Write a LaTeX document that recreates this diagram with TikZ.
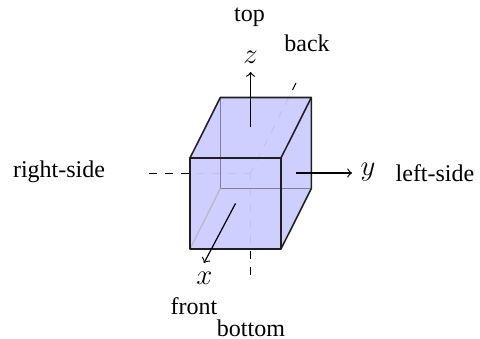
\documentclass[tikz,border=0pt]{standalone}
\usepackage{fontspec}
\setmainfont{Liberation Serif}
\begin{document}
\begin{tikzpicture}[x=0.41667pt,y=-0.41667pt,
  axisline/.style={line width=0.5pt,->},
  dashline/.style={line width=0.4pt,dash pattern=on 3.3pt off 3.3pt},
  edge/.style={line width=0.65pt,black!88,line join=round},
  hidden/.style={line width=0.55pt,blue!20!black!50},
  lab/.style={inner sep=0pt,font=\normalsize},
  mathlab/.style={inner sep=0pt,font=\large}]
\useasboundingbox (0,0) rectangle (480,339);
\coordinate (o) at (250.6,173);
\coordinate (zt) at (250.6,72);
\coordinate (yt) at (352,173);
\coordinate (xt) at (204,263);
\coordinate (zb) at (250.6,275);
\coordinate (yb) at (149,173);
\coordinate (xb) at (296,83);
\coordinate (fc) at (235.5,203.5);
\coordinate (bc) at (250.6,127.5);
\coordinate (rc) at (296,173);
% corners
\coordinate (a) at (190,158);
\coordinate (b) at (281,158);
\coordinate (c) at (281,249);
\coordinate (d) at (190,249);
\coordinate (e) at (220.3,97.5);
\coordinate (f) at (311.3,97.5);
\coordinate (g) at (311.3,188.5);
\coordinate (h) at (220.3,188.5);
% axes behind the box
\draw[dashline] (yb) -- (o);
\draw[dashline] (zb) -- (o);
\draw[dashline] (xb) -- (o);
\fill[blue!20,fill opacity=0.95] (a) -- (e) -- (f) -- (g) -- (c) -- (d) -- cycle;
\draw[hidden] (e) -- (h) -- (g);
\draw[hidden,blue!20!black!28] (h) -- (d);
\draw[edge] (a) -- (b) -- (c) -- (d) -- cycle;
\draw[edge] (a) -- (e) -- (f) -- (b);
\draw[edge] (f) -- (g) -- (c);
% axes in front
\draw[axisline] (bc) -- (zt);
\draw[axisline] (rc) -- (yt);
\draw[axisline] (fc) -- (xt);
\node[mathlab] (nz) at (250.6,57) {$z$};
\node[mathlab] (ny) at (368,172) {$y$};
\node[mathlab] (nx) at (204.5,278) {$x$};
\node[lab] (top) at (249.5,17) {top};
\node[lab] (back) at (307,43) {back};
\node[lab] (right) at (59,172) {right-side};
\node[lab] (left) at (435,173) {left-side};
\node[lab] (front) at (194,306) {front};
\node[lab] (bottom) at (251,328) {bottom};
\end{tikzpicture}
\end{document}
